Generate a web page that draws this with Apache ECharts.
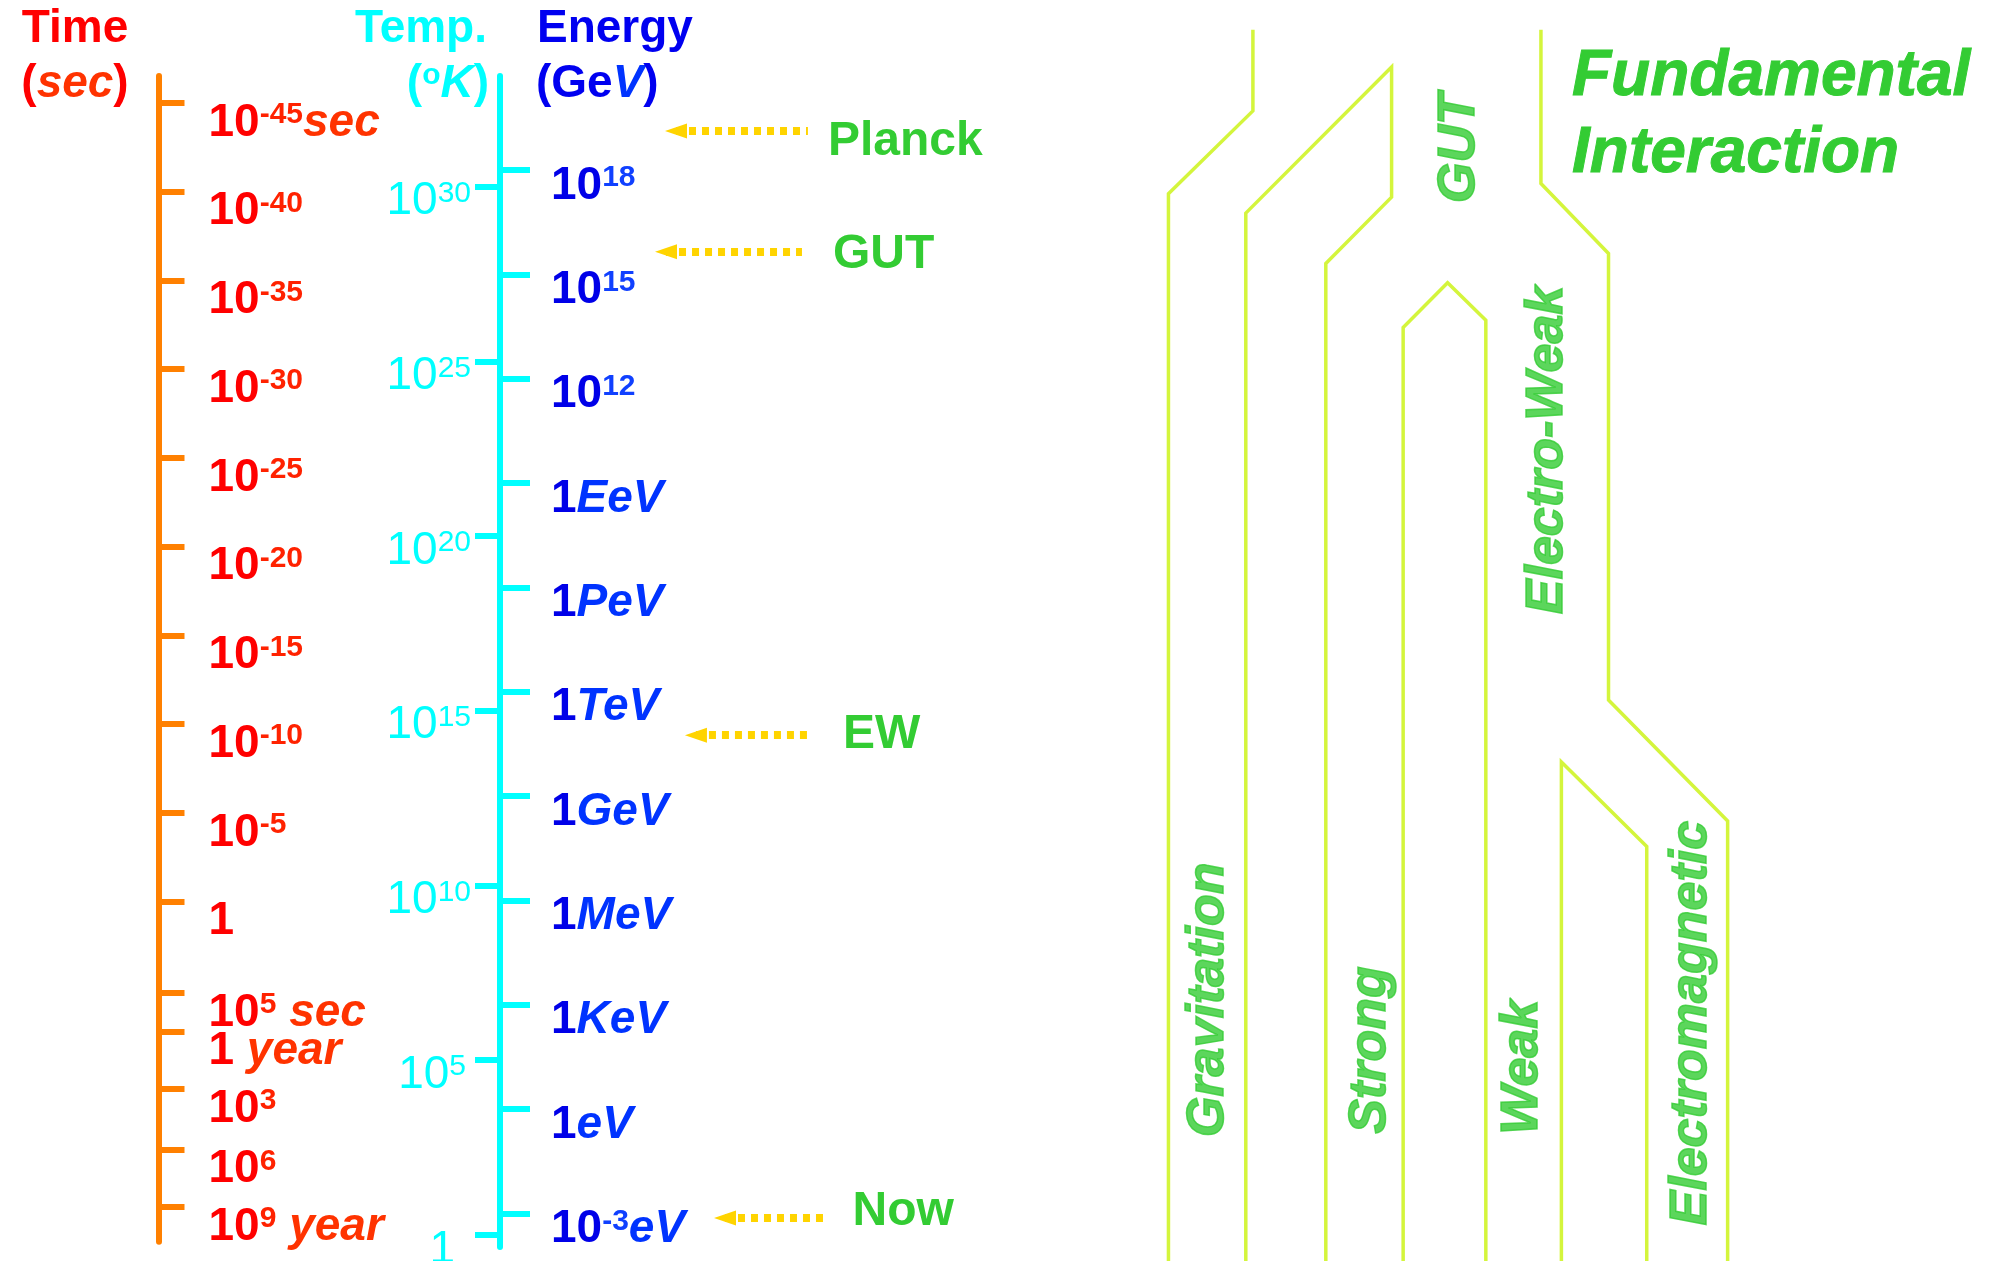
<!DOCTYPE html>
<html><head><meta charset="utf-8">
<script src="https://cdn.jsdelivr.net/npm/echarts@6/dist/echarts.min.js"></script>
<style>html,body{margin:0;padding:0;background:#fff}#c{width:1989px;height:1261px}</style>
</head><body><div id="c"></div>
<script>
// ---------------- data ----------------
// Time axis: log10(seconds)
const timeTickValues = [-45, -40, -35, -30, -25, -20, -15, -10, -5, 0, 5.15, 7.3, 10.55, 13.95, 17.2];
const timeTickLabels = ['10^-45|sec', '10^-40', '10^-35', '10^-30', '10^-25', '10^-20', '10^-15', '10^-10', '10^-5', '1',
  '10^5| sec', '1| year', '10^3', '10^6', '10^9| year'];
// Temperature axis: log10(K)
const tempTickValues = [30, 25, 20, 15, 10, 5, 0];
const tempTickLabels = ['10^30', '10^25', '10^20', '10^15', '10^10', '10^5', '1'];
// Energy axis: log10(GeV)
const energyTickValues = [18, 15, 12, 9, 6, 3, 0, -3, -6, -9, -12];
const energyTickLabels = ['10^18', '10^15', '10^12', '1|EeV', '1|PeV', '1|TeV', '1|GeV', '1|MeV', '1|KeV', '1|eV', '10^-3|eV'];
// Epoch markers (log10 GeV)
const epochNames = ['Planck', 'GUT', 'EW', 'Now'];
const epochEnergy = [19.12, 15.65, 1.75, -12.13];
// Interaction diagram: [lane position, log10 GeV]
const pathGravity = [[7.7, -13.37], [7.7, 17.32], [17.2, 19.70], [17.2, 22.03]];
const pathGUTLeft = [[16.4, -13.37], [16.4, 16.76], [32.8, 20.96], [32.8, 17.22], [25.4, 15.31], [25.4, -13.37]];
const pathStrongWeak = [[34.1, -13.37], [34.1, 13.47], [39.1, 14.76], [43.4, 13.68], [43.4, -13.37]];
const pathOuter = [[49.6, 22.03], [49.6, 17.61], [57.2, 15.60], [57.2, 2.76], [70.6, -0.72], [70.6, -13.37]];
const pathWeakEM = [[51.9, -13.37], [51.9, 0.98], [61.5, -1.45], [61.5, -13.37]];
const diagramNames = ['Gravitation', 'Strong', 'Weak', 'Electromagnetic', 'GUT', 'Electro-Weak'];
const diagramLane = [12.2, 30.4, 47.5, 66.6, 40.5, 50.4];
const diagramEnergy = [-5.86, -7.30, -7.80, -6.53, 18.63, 9.95];

// ---------------- layout / style ----------------
const FONT = "'Liberation Sans', Arial, Helvetica, sans-serif";
const GREEN = '#33CC33';
const GOLD = '#FFD400';
const LINE = '#D4F53C';
const arrowFrom = [11.82, 11.15, 13.16, 15.11];
const arrowTo = [20.68, 20.28, 20.62, 22.0];
const arrowLabelGap = [20, 31, 36, 25];
const arrowLabelShift = [11, 3, 0, -6];
const tempLabelPadRight = [0, 0, 0, 0, 0, 5, 16];

function richText(label, p, padRight) {
  const parts = label.split('|');
  const mainPart = parts[0], unit = parts[1];
  const bp = mainPart.split('^');
  let s = '{' + p + 'b|' + bp[0] + '}';
  if (bp[1]) s += '{' + p + 'e|' + bp[1] + '}';
  if (unit) s += '{' + p + 'u|' + unit + '}';
  if (padRight) s += '{' + p + 'pad' + padRight + '| }';
  return s;
}
function richStyles(p, color, supColor, unitColor, weight, pads) {
  const o = {};
  o[p + 'b'] = {fontFamily: FONT, fontSize: 46, fontWeight: weight, color: color, lineHeight: 46, verticalAlign: 'middle'};
  o[p + 'e'] = {fontFamily: FONT, fontSize: 30, fontWeight: weight, color: supColor, lineHeight: 28, verticalAlign: 'top'};
  o[p + 'u'] = {fontFamily: FONT, fontSize: 46, fontWeight: weight, fontStyle: 'italic', color: unitColor, lineHeight: 46, verticalAlign: 'middle'};
  (pads || []).forEach(w => { if (w) o[p + 'pad' + w] = {width: w, fontSize: 1, lineHeight: 1, color: 'rgba(0,0,0,0)'}; });
  return o;
}
function lookupIndex(values, v) {
  let bi = 0, bd = Infinity;
  values.forEach((x, i) => { const d = Math.abs(x - v); if (d < bd) { bd = d; bi = i; } });
  return bi;
}

const chart = echarts.init(document.getElementById('c'), null, {renderer: 'canvas'});

const hiddenX = (gi, min, max) => ({gridIndex: gi, type: 'value', min: min, max: max, show: false});
const pStyle = (c) => ({fontFamily: FONT, fontSize: 46, fontWeight: 'bold', color: c, lineHeight: 46, verticalAlign: 'middle'});
const iStyle = (c) => ({fontFamily: FONT, fontSize: 46, fontWeight: 'bold', fontStyle: 'italic', color: c, lineHeight: 46, verticalAlign: 'middle'});

const option = {
  animation: false,
  backgroundColor: '#ffffff',
  title: [
    {text: 'Time', left: 75, top: 6, padding: 0, textAlign: 'center',
      textStyle: {fontFamily: FONT, fontSize: 46, fontWeight: 'bold', color: '#FF0000'}},
    {text: '{p|(}{i|sec}{p|)}', left: 75, top: 61, padding: 0, textAlign: 'center',
      textStyle: {rich: {p: pStyle('#FF0000'), i: iStyle('#FF3300')}}},
    {text: 'Temp.', left: 487, top: 6, padding: 0, textAlign: 'right',
      textStyle: {fontFamily: FONT, fontSize: 46, fontWeight: 'bold', color: '#00FFFF'}},
    {text: '{p|(}{s|o}{i|K}{p|)}', left: 489, top: 61, padding: 0, textAlign: 'right',
      textStyle: {rich: {p: pStyle('#00FFFF'), i: iStyle('#00FFFF'),
        s: {fontFamily: FONT, fontSize: 30, fontWeight: 'bold', color: '#00FFFF', lineHeight: 28, verticalAlign: 'top'}}}},
    {text: 'Energy', left: 537, top: 6, padding: 0, textAlign: 'left',
      textStyle: {fontFamily: FONT, fontSize: 46, fontWeight: 'bold', color: '#0000F0'}},
    {text: '{p|(Ge}{i|V}{p|)}', left: 536, top: 61, padding: 0, textAlign: 'left',
      textStyle: {rich: {p: pStyle('#0000F0'), i: iStyle('#0033FF')}}},
    {text: 'Fundamental\nInteraction', left: 1572, top: 39, padding: 0, textAlign: 'left',
      textStyle: {fontFamily: FONT, fontSize: 64, fontWeight: 'bold', fontStyle: 'italic', color: GREEN, lineHeight: 77,
        textBorderColor: GREEN, textBorderWidth: 1}}
  ],
  grid: [
    {left: 158.5, top: 76, bottom: 19.3, width: 10, outerBoundsMode: 'none', containLabel: false},
    {left: 500, top: 76, bottom: 14, width: 10, outerBoundsMode: 'none', containLabel: false},
    {left: 500, top: 76, bottom: 14, right: 0, outerBoundsMode: 'none', containLabel: false},
    {left: 1100, top: 0, bottom: 0, right: 0, outerBoundsMode: 'none', containLabel: false}
  ],
  xAxis: [hiddenX(0, 0, 1), hiddenX(1, 0, 1), hiddenX(2, 0, 100), hiddenX(3, 0, 100)],
  yAxis: [
    { // time
      gridIndex: 0, type: 'value', position: 'left', inverse: true, min: -46.52, max: 19.156,
      axisLine: {show: true, lineStyle: {color: '#FF8000', width: 6}},
      axisTick: {show: true, inside: true, length: 26, customValues: timeTickValues, lineStyle: {color: '#FF8000', width: 6}},
      axisLabel: {show: true, inside: true, margin: 50, padding: [40, 0, 0, 0], customValues: timeTickValues,
        formatter: v => richText(timeTickLabels[lookupIndex(timeTickValues, v)], 't'),
        rich: richStyles('t', '#FF0000', '#FF2200', '#FF3300', 'bold')},
      splitLine: {show: false}
    },
    { // temperature
      gridIndex: 1, type: 'value', position: 'left', min: -0.346, max: 33.168,
      axisLine: {show: true, lineStyle: {color: '#00FFFF', width: 6}},
      axisTick: {show: true, inside: false, length: 25, customValues: tempTickValues, lineStyle: {color: '#00FFFF', width: 6}},
      axisLabel: {show: true, inside: false, margin: 29, padding: [30, 0, 0, 0], customValues: tempTickValues,
        formatter: v => { const i = lookupIndex(tempTickValues, v); return richText(tempTickLabels[i], 'k', tempLabelPadRight[i]); },
        rich: richStyles('k', '#00FFFF', '#00FFFF', '#00FFFF', 'normal', tempLabelPadRight)},
      splitLine: {show: false}
    },
    { // energy
      gridIndex: 2, type: 'value', position: 'left', min: -12.966, max: 20.703,
      axisLine: {show: false},
      axisTick: {show: true, inside: true, length: 30, customValues: energyTickValues, lineStyle: {color: '#00FFFF', width: 6}},
      axisLabel: {show: true, inside: true, margin: 51, padding: [32, 0, 0, 0], customValues: energyTickValues,
        formatter: v => richText(energyTickLabels[lookupIndex(energyTickValues, v)], 'e'),
        rich: richStyles('e', '#0000E8', '#1040FF', '#0033FF', 'bold')},
      splitLine: {show: false}
    },
    { // diagram energy scale
      gridIndex: 3, type: 'value', min: -13.369, max: 22.888, show: false
    }
  ],
  series: []
};

// epoch arrows
option.series.push({
  type: 'line', xAxisIndex: 2, yAxisIndex: 2, silent: true,
  symbol: 'none', lineStyle: {width: 0, opacity: 0},
  data: epochEnergy.map((e, i) => [arrowFrom[i], e]),
  markLine: {
    silent: true, animation: false,
    symbol: ['triangle', 'none'], symbolSize: [15, 22],
    lineStyle: {color: GOLD, width: 8, type: [7, 6], cap: 'butt', opacity: 1},
    emphasis: {disabled: true},
    label: {show: true, position: 'end'},
    data: epochEnergy.map((e, i) => {
      const sh = arrowLabelShift[i];
      const pad = sh >= 0 ? [sh * 2, 0, 0, 0] : [0, 0, -sh * 2, 0];
      return [
        {coord: [arrowFrom[i], e], name: epochNames[i],
          label: {show: true, position: 'end', distance: arrowLabelGap[i], formatter: '{a|' + epochNames[i] + '}',
            rich: {a: {color: GREEN, fontFamily: FONT, fontSize: 48, fontWeight: 'bold', lineHeight: 48, padding: pad}}}},
        {coord: [arrowTo[i], e]}
      ];
    })
  }
});

// interaction diagram lines
[pathGravity, pathGUTLeft, pathStrongWeak, pathOuter, pathWeakEM].forEach(p => {
  option.series.push({
    type: 'line', xAxisIndex: 3, yAxisIndex: 3, silent: true, clip: false,
    symbol: 'none', data: p,
    lineStyle: {color: LINE, width: 3.5, join: 'miter'}
  });
});

// interaction labels
option.series.push({
  type: 'scatter', xAxisIndex: 3, yAxisIndex: 3, silent: true,
  symbolSize: 1, itemStyle: {color: 'rgba(0,0,0,0)'},
  data: diagramNames.map((n, i) => ({name: n, value: [diagramLane[i], diagramEnergy[i]]})),
  label: {show: true, position: 'inside', rotate: 90, formatter: '{b}', color: GREEN,
    fontFamily: FONT, fontSize: 52, fontWeight: 'bold', fontStyle: 'italic',
    textBorderColor: GREEN, textBorderWidth: 1.5}
});

chart.setOption(option);
</script>
</body></html>
